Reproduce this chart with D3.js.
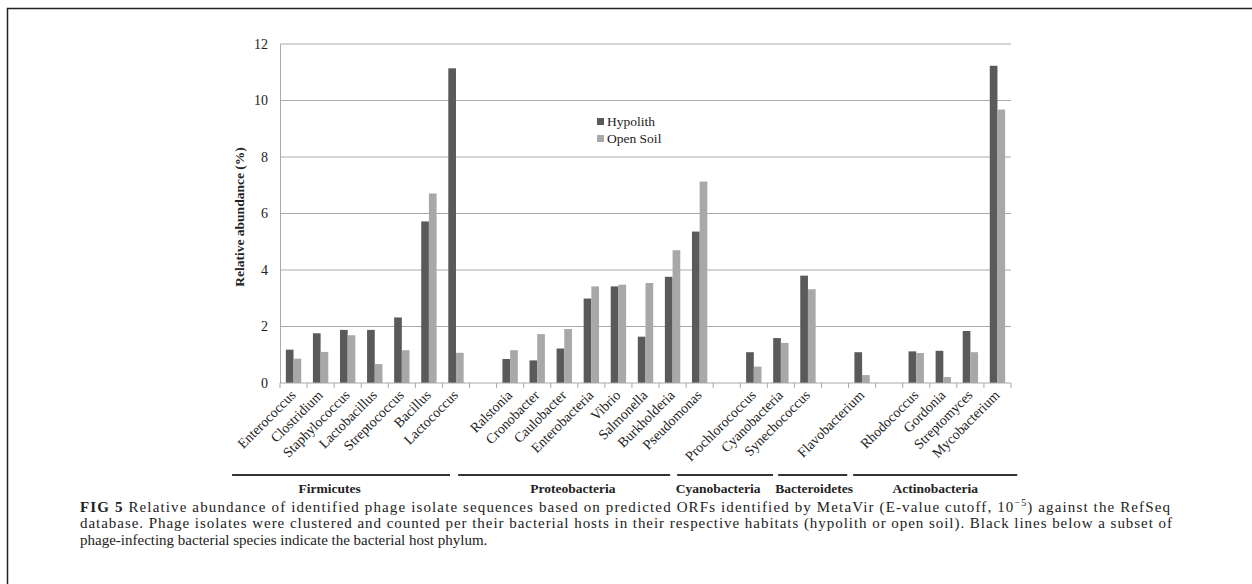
<!DOCTYPE html>
<html>
<head>
<meta charset="utf-8">
<script src="https://cdn.jsdelivr.net/npm/d3@7"></script>
<style>
  body { margin: 0; background: #fff; }
  svg { display: block; font-family: "Liberation Serif", "Times New Roman", serif; }
</style>
</head>
<body>
<svg id="chart" width="1252" height="584"></svg>
<script>
// categories ('' = empty slot on the axis)
let hosts = ['Enterococcus', 'Clostridium', 'Staphylococcus', 'Lactobacillus', 'Streptococcus', 'Bacillus', 'Lactococcus', '',
  'Ralstonia', 'Cronobacter', 'Caulobacter', 'Enterobacteria', 'Vibrio', 'Salmonella', 'Burkholderia', 'Pseudomonas', '',
  'Prochlorococcus', 'Cyanobacteria', 'Synechococcus', '', 'Flavobacterium', '',
  'Rhodococcus', 'Gordonia', 'Streptomyces', 'Mycobacterium']

let hypolith = [1.18, 1.76, 1.88, 1.88, 2.32, 5.72, 11.14, null,
  0.85, 0.80, 1.22, 2.99, 3.42, 1.64, 3.76, 5.36, null,
  1.09, 1.59, 3.80, null, 1.09, null,
  1.12, 1.14, 1.84, 11.23]

let openSoil = [0.86, 1.10, 1.69, 0.67, 1.16, 6.71, 1.07, null,
  1.16, 1.73, 1.91, 3.42, 3.48, 3.54, 4.70, 7.13, null,
  0.58, 1.42, 3.32, null, 0.28, null,
  1.06, 0.21, 1.09, 9.68]

let seriesNames = ['Hypolith', 'Open Soil']
let yTicks = [0, 2, 4, 6, 8, 10, 12]

// phylum bars under the labels, in category units
let phyla = ['Firmicutes', 'Proteobacteria', 'Cyanobacteria', 'Bacteroidetes', 'Actinobacteria']
let phylaFrom = [-1.77, 6.58, 14.67, 18.40, 21.17]
let phylaTo = [6.28, 14.41, 18.21, 20.95, 27.23]
let phylaLabelAt = [1.83, 10.82, 16.18, 19.73, 24.2]

let margin = {top: 44, left: 280, right: 1011, bottom: 383}
let darkGrey = '#5a5a5a'
let lightGrey = '#a8a8a8'
let serif = '"Liberation Serif", "Times New Roman", serif'

let svg = d3.select('#chart')

// frame around the figure
svg.append('rect')
    .attr('x', 7.5).attr('y', 8.5)
    .attr('width', 1400).attr('height', 800)
    .attr('fill', 'none')
    .attr('stroke', '#222')
    .attr('stroke-width', 1.5)

let x = d3.scaleBand()
    .domain(d3.range(hosts.length))
    .range([margin.left, margin.right])

let xUnits = d3.scaleLinear()
    .domain([0, hosts.length])
    .range([margin.left, margin.right])

let xInner = d3.scaleBand()
    .domain(seriesNames)
    .range([0, x.bandwidth()])
    .paddingOuter(0.76)

let y = d3.scaleLinear()
    .domain([0, 12])
    .range([margin.bottom, margin.top])

// gridlines
svg.append('g')
    .selectAll('line')
    .data(yTicks.filter(d => d > 0))
    .enter().append('line')
        .attr('x1', margin.left).attr('x2', margin.right)
        .attr('y1', d => y(d)).attr('y2', d => y(d))
        .attr('stroke', '#a9a9a9')
        .attr('stroke-width', 1)

// y axis
let yAxis = svg.append('g')
    .attr('transform', 'translate(' + margin.left + ',0)')
    .call(d3.axisLeft(y).tickValues(yTicks).tickSize(0).tickPadding(12))
yAxis.attr('font-family', serif).attr('font-size', 14)
yAxis.select('.domain').attr('stroke', '#a9a9a9')
yAxis.selectAll('text')
    .style('font-family', serif)
    .style('font-size', '14px')
    .attr('fill', '#222')

svg.append('text')
    .attr('transform', 'translate(244,217) rotate(-90)')
    .attr('text-anchor', 'middle')
    .style('font-size', '13.5px')
    .style('font-weight', 'bold')
    .attr('fill', '#222')
    .text('Relative abundance (%)')

// bars
let rows = hosts.map((h, i) => ({i: i, values: [hypolith[i], openSoil[i]]}))
let groups = svg.append('g')
    .selectAll('g')
    .data(rows)
    .enter().append('g')
    .attr('transform', d => 'translate(' + x(d.i) + ',0)')

groups.selectAll('rect')
    .data(d => d.values.map((v, k) => ({key: seriesNames[k], value: v})).filter(e => e.value != null))
    .enter().append('rect')
        .attr('x', d => xInner(d.key))
        .attr('width', xInner.bandwidth())
        .attr('y', d => y(d.value))
        .attr('height', d => y(0) - y(d.value))
        .attr('fill', d => d.key == 'Hypolith' ? darkGrey : lightGrey)

// x axis
svg.append('line')
    .attr('x1', margin.left).attr('x2', margin.right)
    .attr('y1', y(0)).attr('y2', y(0))
    .attr('stroke', '#a9a9a9')

svg.append('g')
    .selectAll('line')
    .data(d3.range(hosts.length + 1))
    .enter().append('line')
        .attr('x1', d => xUnits(d)).attr('x2', d => xUnits(d))
        .attr('y1', y(0)).attr('y2', y(0) + 5)
        .attr('stroke', '#a9a9a9')

svg.append('g')
    .selectAll('text')
    .data(rows.filter(d => hosts[d.i] != ''))
    .enter().append('text')
        .attr('transform', d => 'translate(' + (x(d.i) + x.bandwidth() / 2 + 3) + ',' + (y(0) + 13) + ') rotate(-45)')
        .attr('text-anchor', 'end')
        .style('font-size', '14px')
        .attr('fill', '#222')
        .text(d => hosts[d.i])

// phylum lines and names
phyla.forEach((p, k) => {
    svg.append('line')
        .attr('x1', xUnits(phylaFrom[k])).attr('x2', xUnits(phylaTo[k]))
        .attr('y1', 475).attr('y2', 475)
        .attr('stroke', '#333')
        .attr('stroke-width', 2)
    svg.append('text')
        .attr('x', xUnits(phylaLabelAt[k]))
        .attr('y', 493)
        .attr('text-anchor', 'middle')
        .style('font-size', '13.5px')
        .style('font-weight', 'bold')
        .attr('fill', '#222')
        .text(p)
})

// legend
let legend = svg.append('g').attr('transform', 'translate(597,118)')
seriesNames.forEach((s, k) => {
    legend.append('rect')
        .attr('x', 0).attr('y', k * 17)
        .attr('width', 7).attr('height', 7)
        .attr('fill', k == 0 ? darkGrey : lightGrey)
    legend.append('text')
        .attr('x', 10).attr('y', k * 17 + 8)
        .style('font-size', '13.5px')
        .attr('fill', '#222')
        .text(s)
})

// caption
let caption = svg.append('g')
    .style('font-size', '15px')
    .attr('fill', '#222')

let line1 = caption.append('text')
    .attr('x', 80).attr('y', 512)
    .attr('textLength', 1090).attr('lengthAdjust', 'spacing')
line1.append('tspan').style('font-weight', 'bold').text('FIG 5')
line1.append('tspan').text(' Relative abundance of identified phage isolate sequences based on predicted ORFs identified by MetaVir (E-value cutoff, 10')
line1.append('tspan').attr('dy', -6).style('font-size', '10px').text('\u22125')
line1.append('tspan').attr('dy', 6).text(') against the RefSeq')

caption.append('text')
    .attr('x', 80).attr('y', 528)
    .attr('textLength', 1092).attr('lengthAdjust', 'spacing')
    .text('database. Phage isolates were clustered and counted per their bacterial hosts in their respective habitats (hypolith or open soil). Black lines below a subset of')

caption.append('text')
    .attr('x', 80).attr('y', 545)
    .text('phage-infecting bacterial species indicate the bacterial host phylum.')
</script>
</body>
</html>
